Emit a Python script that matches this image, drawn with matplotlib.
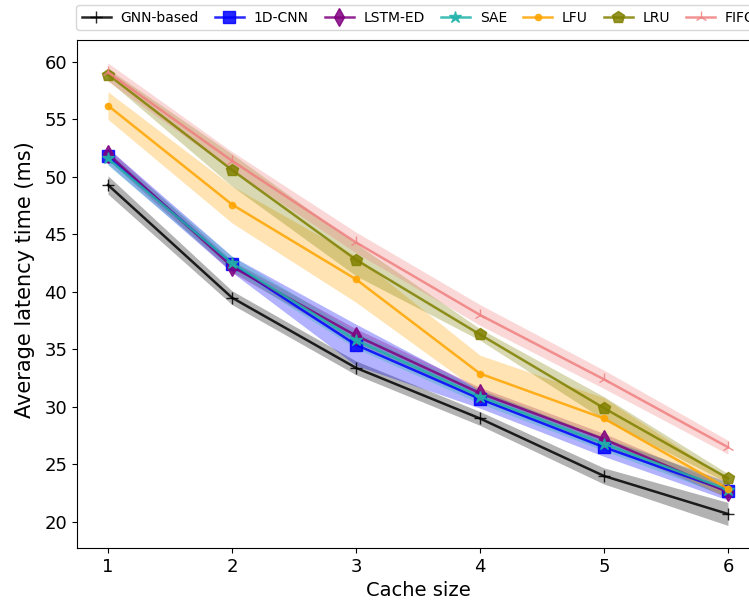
import numpy as np
import matplotlib
matplotlib.use("Agg")
import matplotlib.pyplot as plt

cache_sizes = [1, 2, 3, 4, 5, 6]

series_names = ["GNN-based", "1D-CNN", "LSTM-ED", "SAE", "LFU", "LRU", "FIFO"]

gnn_mean = [49.3, 39.5, 33.4, 29.0, 24.0, 20.7]
gnn_std = [0.8, 0.6, 0.6, 0.6, 0.7, 1.0]

cnn_mean = [51.8, 42.4, 35.4, 30.7, 26.5, 22.7]
cnn_std = [0.7, 0.7, 1.8, 0.8, 0.8, 0.8]

lstm_mean = [52.0, 42.2, 36.2, 31.2, 27.2, 22.6]
lstm_std = [0.5, 0.5, 0.6, 0.5, 0.5, 0.5]

sae_mean = [51.6, 42.5, 35.8, 30.9, 26.8, 22.8]
sae_std = [0.6, 0.6, 0.7, 0.6, 0.6, 0.6]

lfu_mean = [56.2, 47.6, 41.1, 32.9, 29.0, 22.9]
lfu_std = [1.2, 1.6, 2.0, 1.6, 1.8, 0.8]

lru_mean = [58.9, 50.6, 42.8, 36.3, 29.9, 23.8]
lru_std = [0.5, 1.4, 1.4, 0.5, 1.0, 0.4]

fifo_mean = [59.1, 51.4, 44.3, 38.0, 32.4, 26.5]
fifo_std = [0.8, 0.8, 0.9, 0.9, 0.8, 0.6]

means = [gnn_mean, cnn_mean, lstm_mean, sae_mean, lfu_mean, lru_mean, fifo_mean]
stds = [gnn_std, cnn_std, lstm_std, sae_std, lfu_std, lru_std, fifo_std]
colors = ["black", "blue", "purple", "lightseagreen", "orange", "olive", "lightcoral"]
markers = ["+", "s", "d", "*", ".", "p", "2"]

fig = plt.figure(figsize=(7.49, 6.08), dpi=100)
ax = fig.add_axes([0.1028, 0.0987, 0.9105, 0.8355])

x = np.array(cache_sizes)
for name, m, s, c, mk in zip(series_names, means, stds, colors, markers):
    m = np.array(m)
    s = np.array(s)
    ax.plot(x, m, color=c, marker=mk, markersize=9, linewidth=1.8,
            alpha=0.85, label=name)
    ax.fill_between(x, m - s, m + s, color=c, alpha=0.3, linewidth=0)

ax.set_xlim(0.75, 6.25)
ax.set_ylim(17.74, 61.9)
ax.set_xticks(cache_sizes)
ax.set_yticks([20, 25, 30, 35, 40, 45, 50, 55, 60])
ax.tick_params(labelsize=13)
ax.set_xlabel("Cache size", fontsize=14)
ax.set_ylabel("Average latency time (ms)", fontsize=15)
ax.yaxis.set_label_coords(-0.062, 0.528)

fig.legend(loc="upper left", bbox_to_anchor=(76 / 749, 1 - 5 / 608),
           borderaxespad=0, ncol=7, fontsize=10, handlelength=2.1,
           handletextpad=0.7, columnspacing=1.15)

fig.savefig("out.png", dpi=100)
